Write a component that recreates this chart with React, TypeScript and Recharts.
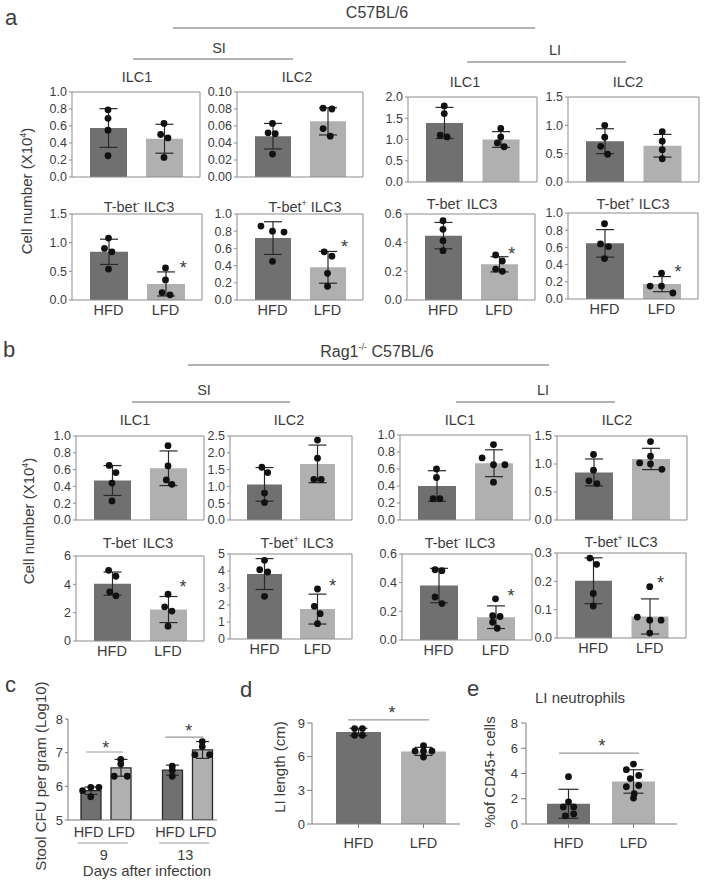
import React from "react"
import {
  ComposedChart,
  Bar,
  Cell,
  XAxis,
  YAxis,
  Scatter,
  ErrorBar,
  ReferenceLine,
  ReferenceDot,
} from "recharts"

const groups = ["HFD", "LFD"]

// a: C57BL/6, cell number (x10^4)
const aSiIlc1Mean = [0.576, 0.45]
const aSiIlc1Sd = [0.228, 0.17]
const aSiIlc1Hfd = [0.79, 0.69, 0.55, 0.25]
const aSiIlc1Lfd = [0.63, 0.5, 0.46, 0.23]

const aSiIlc2Mean = [0.048, 0.0655]
const aSiIlc2Sd = [0.015, 0.016]
const aSiIlc2Hfd = [0.063, 0.052, 0.051, 0.027]
const aSiIlc2Lfd = [0.081, 0.08, 0.057, 0.048]

const aLiIlc1Mean = [1.39, 1.0]
const aLiIlc1Sd = [0.365, 0.185]
const aLiIlc1Hfd = [1.79, 1.61, 1.1, 1.06]
const aLiIlc1Lfd = [1.26, 1.06, 0.92, 0.83]

const aLiIlc2Mean = [0.72, 0.64]
const aLiIlc2Sd = [0.22, 0.2]
const aLiIlc2Hfd = [1.0, 0.79, 0.63, 0.49]
const aLiIlc2Lfd = [0.89, 0.72, 0.57, 0.41]

const aSiTmMean = [0.84, 0.28]
const aSiTmSd = [0.22, 0.21]
const aSiTmHfd = [1.08, 0.9, 0.84, 0.54]
const aSiTmLfd = [0.56, 0.35, 0.13, 0.09]

const aSiTpMean = [0.72, 0.38]
const aSiTpSd = [0.19, 0.185]
const aSiTpHfd = [0.86, 0.8, 0.79, 0.45]
const aSiTpLfd = [0.56, 0.51, 0.31, 0.16]

const aLiTmMean = [0.449, 0.249]
const aLiTmSd = [0.092, 0.053]
const aLiTmHfd = [0.553, 0.493, 0.414, 0.344]
const aLiTmLfd = [0.314, 0.272, 0.216, 0.2]

const aLiTpMean = [0.647, 0.173]
const aLiTpSd = [0.16, 0.088]
const aLiTpHfd = [0.875, 0.64, 0.61, 0.47]
const aLiTpLfd = [0.3, 0.15, 0.15, 0.07]

// b: Rag1-/- C57BL/6
const bSiIlc1Mean = [0.47, 0.616]
const bSiIlc1Sd = [0.178, 0.206]
const bSiIlc1Hfd = [0.65, 0.565, 0.44, 0.227]
const bSiIlc1Lfd = [0.885, 0.644, 0.477, 0.425]

const bSiIlc2Mean = [1.06, 1.67]
const bSiIlc2Sd = [0.5, 0.56]
const bSiIlc2Hfd = [1.57, 1.41, 0.8, 0.52]
const bSiIlc2Lfd = [2.38, 1.84, 1.21, 1.21]

const bLiIlc1Mean = [0.4, 0.668]
const bLiIlc1Sd = [0.18, 0.158]
const bLiIlc1Hfd = [0.6, 0.5, 0.25, 0.25]
const bLiIlc1Lfd = [0.887, 0.73, 0.65, 0.65, 0.445]

const bLiIlc2Mean = [0.85, 1.09]
const bLiIlc2Sd = [0.24, 0.19]
const bLiIlc2Hfd = [1.17, 0.89, 0.7, 0.65]
const bLiIlc2Lfd = [1.4, 1.14, 1.02, 1.0, 0.905]

const bSiTmMean = [4.05, 2.22]
const bSiTmSd = [0.82, 0.92]
const bSiTmHfd = [4.99, 4.57, 3.47, 3.19]
const bSiTmLfd = [3.3, 2.41, 2.11, 1.05]

const bSiTpMean = [3.82, 1.76]
const bSiTpSd = [0.91, 0.88]
const bSiTpHfd = [4.63, 4.08, 3.94, 2.51]
const bSiTpLfd = [2.94, 1.92, 1.49, 0.9]

const bLiTmMean = [0.38, 0.159]
const bLiTmSd = [0.12, 0.079]
const bLiTmHfd = [0.49, 0.484, 0.3, 0.254]
const bLiTmLfd = [0.287, 0.17, 0.164, 0.124, 0.082]

const bLiTpMean = [0.202, 0.076]
const bLiTpSd = [0.081, 0.062]
const bLiTpHfd = [0.282, 0.26, 0.157, 0.113]
const bLiTpLfd = [0.181, 0.074, 0.063, 0.063, 0.0175]

// c: stool CFU (log10), days after infection
const days = ["9", "13"]
const cHfdMean = [5.87, 6.48]
const cHfdSd = [0.11, 0.15]
const cLfdMean = [6.55, 7.08]
const cLfdSd = [0.25, 0.25]
const cHfd9 = [5.87, 5.97, 5.97, 5.69]
const cLfd9 = [6.8, 6.66, 6.3, 6.3]
const cHfd13 = [6.6, 6.48, 6.3]
const cLfd13 = [7.33, 7.18, 6.94, 6.94]

// d: LI length (cm)
const dMean = [8.2, 6.47]
const dSd = [0.33, 0.36]
const dHfd = [8.5, 8.5, 7.9, 7.9]
const dLfd = [6.98, 6.5, 6.5, 6.5, 5.97]

// e: LI neutrophils (% of CD45+)
const eMean = [1.6, 3.37]
const eSd = [1.15, 0.93]
const eHfd = [3.75, 1.75, 1.35, 1.35, 0.65, 0.8]
const eLfd = [4.75, 4.3, 3.85, 3.6, 3.05, 2.95, 2.4, 2.05]

// horizontal spread of the dots, in category widths
const jitter: Record<string, number[][]> = {
  aSiIlc1: [[0, 0, 0, 0], [0, -0.06, 0.07, 0]],
  aSiIlc2: [[0, -0.08, 0.05, 0], [-0.08, 0.08, -0.08, 0.05]],
  aLiIlc1: [[0, 0, -0.07, 0.05], [0, 0, -0.06, 0.06]],
  aLiIlc2: [[0, 0, -0.07, 0.05], [0, 0, 0, 0]],
  aSiTm: [[0, -0.07, 0.06, 0], [0, 0, -0.06, 0.08]],
  aSiTp: [[-0.21, 0, 0.21, 0], [-0.06, 0.08, 0, 0]],
  aLiTm: [[0, 0, 0, 0], [-0.06, 0.06, -0.06, 0.06]],
  aLiTp: [[0, -0.07, 0.07, 0], [0, -0.2, 0, 0.2]],
  bSiIlc1: [[-0.05, 0.07, 0, 0], [0, 0, -0.03, 0.07]],
  bSiIlc2: [[-0.05, 0.06, 0, 0], [0, 0, -0.07, 0.07]],
  bLiIlc1: [[0, 0, -0.06, 0.06], [0, -0.2, 0, 0.2, 0]],
  bLiIlc2: [[0, 0, -0.08, 0.06], [0, 0, -0.19, 0, 0.2]],
  bSiTm: [[-0.06, 0.07, -0.04, 0.07], [0, -0.06, 0.07, 0]],
  bSiTp: [[0, -0.09, 0.06, 0], [0, -0.06, 0.05, 0]],
  bLiTm: [[-0.06, 0.06, -0.06, 0.06], [0, -0.05, 0.08, -0.05, 0.03]],
  bLiTp: [[-0.06, 0.06, 0, 0], [0, -0.22, 0, 0.2, 0]],
  c: [[-0.1, 0, 0.1, 0], [0, 0, -0.08, 0.08], [0, 0, 0], [0, 0, -0.09, 0.09]],
  d: [[-0.06, 0.06, -0.06, 0.06], [0, -0.13, 0, 0.13, 0]],
  e: [[0, 0, -0.08, 0.08, -0.05, 0.08], [0, -0.11, 0.08, -0.05, 0.08, -0.11, 0.01, 0]],
}

const FONT = "'Liberation Sans', Arial, sans-serif"
const TEXT = "#3c3c3c"
const DARK = "#707070"
const LIGHT = "#b0b0b0"
const BOX = "#8c8c8c"
const AXIS = "#7a7a7a"
const RULE = "#9a9a9a"

const Dot = (p: any) => <circle cx={p.cx} cy={p.cy} r={3.4} fill="#111" />

const Asterisk = (p: any) => (
  <text x={p.cx} y={p.cy + 10} textAnchor="middle" fontSize={18} fill={TEXT} fontFamily={FONT}>
    *
  </text>
)

interface PanelProps {
  box: number[]
  ticks: number[]
  dec: number
  mean: number[]
  sd: number[]
  hfd: number[]
  lfd: number[]
  jit: number[][]
  framed?: boolean
  labels?: boolean
  pad?: { left: number; right: number }
  barSize?: number
  cap?: number
  tickFont?: number
  mt?: number
  xTick?: number[]
  yTick?: number[]
  sig?: number[]
  star?: number[]
}

function DotBarPanel({
  box,
  ticks,
  dec,
  mean,
  sd,
  hfd,
  lfd,
  jit,
  framed = true,
  labels = false,
  pad = { left: 8, right: 8 },
  barSize,
  cap = 9,
  tickFont = 12.5,
  mt = 8,
  xTick = [3, 2],
  yTick = [3, 2],
  sig,
  star,
}: PanelProps) {
  const [l, t, r, b] = box
  const yw = 40
  const topH = framed ? 1 : 0
  const rightW = framed ? 1 : 0
  const xh = labels ? 32 : 9
  const stroke = framed ? BOX : AXIS
  const max = ticks[ticks.length - 1]
  const band = (r - l - pad.left - pad.right) / 2
  const bars = groups.map((g, i) => ({ g, m: mean[i], sd: sd[i] }))
  const pts = [
    ...hfd.map((v, k) => ({ x: jit[0][k], v })),
    ...lfd.map((v, k) => ({ x: 1 + jit[1][k], v })),
  ]

  return (
    <div style={{ position: "absolute", left: l - yw, top: t - mt - topH }}>
      <ComposedChart
        width={yw + (r - l) + rightW + 4}
        height={mt + topH + (b - t) + xh}
        data={bars}
        margin={{ top: mt, right: 4, bottom: 0, left: 0 }}
      >
        <XAxis
          dataKey="g"
          padding={pad}
          height={xh}
          interval={0}
          tickSize={xTick[0]}
          tickMargin={xTick[1]}
          tickLine={framed ? false : { stroke }}
          axisLine={{ stroke }}
          tick={labels ? { fontSize: 14.5, fill: TEXT, fontFamily: FONT } : false}
        />
        <XAxis
          xAxisId="pts"
          dataKey="x"
          type="number"
          domain={[-0.5, 1.5]}
          allowDataOverflow
          padding={pad}
          orientation="top"
          height={topH || 1}
          hide={!framed}
          ticks={[-0.5, 1.5]}
          tick={false}
          tickLine={false}
          axisLine={{ stroke }}
        />
        <YAxis
          width={yw}
          domain={[0, max]}
          ticks={ticks}
          interval={0}
          allowDataOverflow
          tickFormatter={(v: number) => v.toFixed(dec)}
          tickSize={yTick[0]}
          tickMargin={yTick[1]}
          tickLine={{ stroke }}
          axisLine={{ stroke }}
          tick={{ fontSize: tickFont, fill: TEXT, fontFamily: FONT }}
        />
        {framed && (
          <YAxis
            yAxisId="r"
            orientation="right"
            width={rightW}
            domain={[0, max]}
            ticks={[0, max]}
            allowDataOverflow
            tick={false}
            tickLine={false}
            axisLine={{ stroke }}
          />
        )}
        <Bar dataKey="m" barSize={barSize ?? Math.round(band * 0.66)} isAnimationActive={false}>
          <Cell fill={DARK} />
          <Cell fill={LIGHT} />
          <ErrorBar dataKey="sd" width={cap} stroke="#2a2a2a" strokeWidth={1.2} isAnimationActive={false} />
        </Bar>
        <Scatter xAxisId="pts" data={pts} dataKey="v" shape={Dot} isAnimationActive={false} />
        {sig && (
          <ReferenceLine
            xAxisId="pts"
            segment={[
              { x: sig[0], y: sig[2] },
              { x: sig[1], y: sig[2] },
            ]}
            stroke={RULE}
            strokeWidth={1.2}
            ifOverflow="visible"
          />
        )}
        {star && <ReferenceDot xAxisId="pts" x={star[0]} y={star[1]} ifOverflow="visible" shape={Asterisk} />}
      </ComposedChart>
    </div>
  )
}

function DayTick({ x, y, payload }: any) {
  return (
    <g fontFamily={FONT} fill={TEXT}>
      <text x={x - 1.5} y={y + 17} textAnchor="middle" fontSize={14.5}>
        HFD LFD
      </text>
      <line x1={x - 28} x2={x + 22} y1={y + 23} y2={y + 23} stroke={RULE} strokeWidth={1.2} />
      <text x={x - 2} y={y + 40} textAnchor="middle" fontSize={14.5}>
        {payload.value}
      </text>
    </g>
  )
}

function CfuPanel() {
  const l = 68
  const t = 719
  const r = 217
  const b = 820
  const yw = 30
  const mt = 16
  const xh = 62
  const pad = { left: -3, right: -11 }
  const band = (r - l - pad.left - pad.right) / 2
  const off = 15 / band
  const data = days.map((d, i) => ({
    day: d,
    hfd: cHfdMean[i],
    hfdSd: cHfdSd[i],
    lfd: cLfdMean[i],
    lfdSd: cLfdSd[i],
  }))
  const j = jitter.c
  const pts = [
    ...cHfd9.map((v, k) => ({ x: -off + j[0][k], v })),
    ...cLfd9.map((v, k) => ({ x: off + j[1][k], v })),
    ...cHfd13.map((v, k) => ({ x: 1 - off + j[2][k], v })),
    ...cLfd13.map((v, k) => ({ x: 1 + off + j[3][k], v })),
  ]

  return (
    <div style={{ position: "absolute", left: l - yw, top: t - mt }}>
      <ComposedChart
        width={yw + (r - l) + 4}
        height={mt + (b - t) + xh}
        data={data}
        barGap={10}
        margin={{ top: mt, right: 4, bottom: 0, left: 0 }}
      >
        <XAxis
          dataKey="day"
          padding={pad}
          height={xh}
          interval={0}
          tickSize={0}
          tickMargin={0}
          tickLine={false}
          axisLine={{ stroke: AXIS }}
          tick={<DayTick />}
        />
        <XAxis xAxisId="pts" dataKey="x" type="number" domain={[-0.5, 1.5]} allowDataOverflow padding={pad} hide />
        <YAxis
          width={yw}
          domain={[5, 8]}
          ticks={[5, 6, 7, 8]}
          interval={0}
          allowDataOverflow
          tickSize={3}
          tickMargin={2}
          tickLine={{ stroke: AXIS }}
          axisLine={{ stroke: AXIS }}
          tick={{ fontSize: 13, fill: TEXT, fontFamily: FONT }}
        />
        <Bar dataKey="hfd" barSize={20} fill={DARK} stroke="#2a2a2a" strokeWidth={1.3} isAnimationActive={false}>
          <ErrorBar dataKey="hfdSd" width={6.5} stroke="#2a2a2a" strokeWidth={1.2} isAnimationActive={false} />
        </Bar>
        <Bar dataKey="lfd" barSize={20} fill={LIGHT} stroke="#2a2a2a" strokeWidth={1.3} isAnimationActive={false}>
          <ErrorBar dataKey="lfdSd" width={6.5} stroke="#2a2a2a" strokeWidth={1.2} isAnimationActive={false} />
        </Bar>
        <Scatter xAxisId="pts" data={pts} dataKey="v" shape={Dot} isAnimationActive={false} />
        <ReferenceLine
          xAxisId="pts"
          segment={[
            { x: -0.24, y: 7.02 },
            { x: 0.215, y: 7.02 },
          ]}
          stroke={RULE}
          strokeWidth={1.2}
          ifOverflow="visible"
        />
        <ReferenceLine
          xAxisId="pts"
          segment={[
            { x: 0.73, y: 7.46 },
            { x: 1.2, y: 7.46 },
          ]}
          stroke={RULE}
          strokeWidth={1.2}
          ifOverflow="visible"
        />
        <ReferenceDot xAxisId="pts" x={0} y={7.26} ifOverflow="visible" shape={Asterisk} />
        <ReferenceDot xAxisId="pts" x={1.02} y={7.76} ifOverflow="visible" shape={Asterisk} />
      </ComposedChart>
    </div>
  )
}

function Title({ x, y, text, sup }: { x: number; y: number; text: string; sup?: string }) {
  return (
    <text x={x} y={y} textAnchor="middle" fontSize={14.5}>
      {text}
      {sup && (
        <>
          <tspan fontSize={9} dy={-6}>
            {sup}
          </tspan>
          <tspan dy={6}> ILC3</tspan>
        </>
      )}
    </text>
  )
}

function YLabel({ x, y, children }: { x: number; y: number; children: React.ReactNode }) {
  return (
    <text transform={`translate(${x + 5.5},${y}) rotate(-90)`} textAnchor="middle" fontSize={15}>
      {children}
    </text>
  )
}

function Overlay() {
  const rule = { stroke: RULE, strokeWidth: 1.3 }
  return (
    <svg
      width={705}
      height={895}
      style={{ position: "absolute", left: 0, top: 0 }}
      fontFamily={FONT}
      fill={TEXT}
    >
      {/* a */}
      <text x={5} y={25} fontSize={22}>a</text>
      <text x={377} y={18} textAnchor="middle" fontSize={16}>C57BL/6</text>
      <line x1={173} x2={535} y1={28} y2={28} {...rule} />
      <text x={219} y={53} textAnchor="middle" fontSize={14.5}>SI</text>
      <line x1={133} x2={293} y1={59} y2={59} {...rule} />
      <text x={555} y={55} textAnchor="middle" fontSize={14.5}>LI</text>
      <line x1={467} x2={626} y1={62} y2={62} {...rule} />
      <Title x={137} y={82} text="ILC1" />
      <Title x={297} y={82} text="ILC2" />
      <Title x={465} y={87} text="ILC1" />
      <Title x={628} y={87} text="ILC2" />
      <Title x={139} y={212} text="T-bet" sup="-" />
      <Title x={305} y={212} text="T-bet" sup="+" />
      <Title x={462} y={209} text="T-bet" sup="-" />
      <Title x={633} y={209} text="T-bet" sup="+" />
      <YLabel x={26} y={191}>
        Cell number (X10
        <tspan fontSize={9} dy={-6}>4</tspan>
        <tspan dy={6}>)</tspan>
      </YLabel>

      {/* b */}
      <text x={3} y={357} fontSize={22}>b</text>
      <text x={377} y={357} textAnchor="middle" fontSize={16}>
        Rag1
        <tspan fontSize={9} dy={-7}>-/-</tspan>
        <tspan dy={7}> C57BL/6</tspan>
      </text>
      <line x1={188} x2={549} y1={365} y2={365} {...rule} />
      <text x={204} y={395} textAnchor="middle" fontSize={14.5}>SI</text>
      <line x1={132} x2={290} y1={402} y2={402} {...rule} />
      <text x={543} y={395} textAnchor="middle" fontSize={14.5}>LI</text>
      <line x1={456} x2={615} y1={402} y2={402} {...rule} />
      <Title x={135} y={425} text="ILC1" />
      <Title x={289} y={425} text="ILC2" />
      <Title x={460} y={425} text="ILC1" />
      <Title x={617} y={425} text="ILC2" />
      <Title x={138} y={548} text="T-bet" sup="-" />
      <Title x={297} y={548} text="T-bet" sup="+" />
      <Title x={460} y={548} text="T-bet" sup="-" />
      <Title x={621} y={547} text="T-bet" sup="+" />
      <YLabel x={28} y={521}>
        Cell number (X10
        <tspan fontSize={9} dy={-6}>4</tspan>
        <tspan dy={6}>)</tspan>
      </YLabel>

      {/* c, d, e */}
      <text x={5} y={692} fontSize={22}>c</text>
      <YLabel x={40} y={776}>Stool CFU per gram (Log10)</YLabel>
      <text x={147} y={876} textAnchor="middle" fontSize={15}>Days after infection</text>
      <text x={240} y={697} fontSize={22}>d</text>
      <YLabel x={279} y={767}>LI length (cm)</YLabel>
      <text x={467} y={696} fontSize={22}>e</text>
      <text x={580} y={703} textAnchor="middle" fontSize={15}>LI neutrophils</text>
      <YLabel x={489} y={772}>%of CD45+ cells</YLabel>
    </svg>
  )
}

const tenths = [0, 0.2, 0.4, 0.6, 0.8, 1.0]

export default function App() {
  return (
    <div style={{ position: "absolute", left: 0, top: 0, width: 705, height: 895, background: "#fff" }}>
      <Overlay />

      <DotBarPanel box={[72, 92, 200, 177]} ticks={tenths} dec={1} mean={aSiIlc1Mean} sd={aSiIlc1Sd} hfd={aSiIlc1Hfd} lfd={aSiIlc1Lfd} jit={jitter.aSiIlc1} />
      <DotBarPanel box={[237, 92, 363, 177]} ticks={[0, 0.02, 0.04, 0.06, 0.08, 0.1]} dec={2} mean={aSiIlc2Mean} sd={aSiIlc2Sd} hfd={aSiIlc2Hfd} lfd={aSiIlc2Lfd} jit={jitter.aSiIlc2} />
      <DotBarPanel box={[408, 97, 537, 182]} ticks={[0, 0.5, 1, 1.5, 2]} dec={1} mean={aLiIlc1Mean} sd={aLiIlc1Sd} hfd={aLiIlc1Hfd} lfd={aLiIlc1Lfd} jit={jitter.aLiIlc1} />
      <DotBarPanel box={[568, 97, 699, 182]} ticks={[0, 0.5, 1, 1.5]} dec={1} mean={aLiIlc2Mean} sd={aLiIlc2Sd} hfd={aLiIlc2Hfd} lfd={aLiIlc2Lfd} jit={jitter.aLiIlc2} />

      <DotBarPanel box={[72, 214, 202, 300]} ticks={[0, 0.5, 1, 1.5]} dec={1} mean={aSiTmMean} sd={aSiTmSd} hfd={aSiTmHfd} lfd={aSiTmLfd} jit={jitter.aSiTm} labels star={[1.31, 0.63]} />
      <DotBarPanel box={[237, 214, 363, 300]} ticks={tenths} dec={1} mean={aSiTpMean} sd={aSiTpSd} hfd={aSiTpHfd} lfd={aSiTpLfd} jit={jitter.aSiTp} labels star={[1.31, 0.66]} />
      <DotBarPanel box={[407, 214, 535, 300]} ticks={[0, 0.2, 0.4, 0.6]} dec={1} mean={aLiTmMean} sd={aLiTmSd} hfd={aLiTmHfd} lfd={aLiTmLfd} jit={jitter.aLiTm} labels star={[1.23, 0.35]} />
      <DotBarPanel box={[568, 213, 698, 299]} ticks={tenths} dec={1} mean={aLiTpMean} sd={aLiTpSd} hfd={aLiTpHfd} lfd={aLiTpLfd} jit={jitter.aLiTp} labels star={[1.29, 0.36]} />

      <DotBarPanel box={[76, 436, 204, 520]} ticks={tenths} dec={1} mean={bSiIlc1Mean} sd={bSiIlc1Sd} hfd={bSiIlc1Hfd} lfd={bSiIlc1Lfd} jit={jitter.bSiIlc1} />
      <DotBarPanel box={[230, 436, 352, 520]} ticks={[0, 0.5, 1, 1.5, 2, 2.5]} dec={1} mean={bSiIlc2Mean} sd={bSiIlc2Sd} hfd={bSiIlc2Hfd} lfd={bSiIlc2Lfd} jit={jitter.bSiIlc2} />
      <DotBarPanel box={[400, 435, 530, 520]} ticks={tenths} dec={1} mean={bLiIlc1Mean} sd={bLiIlc1Sd} hfd={bLiIlc1Hfd} lfd={bLiIlc1Lfd} jit={jitter.bLiIlc1} />
      <DotBarPanel box={[557, 436, 687, 520]} ticks={[0, 0.5, 1, 1.5]} dec={1} mean={bLiIlc2Mean} sd={bLiIlc2Sd} hfd={bLiIlc2Hfd} lfd={bLiIlc2Lfd} jit={jitter.bLiIlc2} />

      <DotBarPanel box={[76, 556, 204, 641]} ticks={[0, 2, 4, 6]} dec={0} mean={bSiTmMean} sd={bSiTmSd} hfd={bSiTmHfd} lfd={bSiTmLfd} jit={jitter.bSiTm} labels star={[1.27, 4.1]} />
      <DotBarPanel box={[230, 554, 352, 639]} ticks={[0, 1, 2, 3, 4, 5]} dec={0} mean={bSiTpMean} sd={bSiTpSd} hfd={bSiTpHfd} lfd={bSiTpLfd} jit={jitter.bSiTp} labels star={[1.29, 3.35]} />
      <DotBarPanel box={[402, 554, 532, 640]} ticks={[0, 0.2, 0.4, 0.6]} dec={1} mean={bLiTmMean} sd={bLiTmSd} hfd={bLiTmHfd} lfd={bLiTmLfd} jit={jitter.bLiTm} labels star={[1.27, 0.335]} />
      <DotBarPanel box={[557, 553, 686, 638]} ticks={[0, 0.1, 0.2, 0.3]} dec={1} mean={bLiTpMean} sd={bLiTpSd} hfd={bLiTpHfd} lfd={bLiTpLfd} jit={jitter.bLiTp} labels star={[1.19, 0.208]} />

      <CfuPanel />

      <DotBarPanel
        box={[312, 723, 460, 824]}
        ticks={[0, 3, 6, 9]}
        dec={0}
        mean={dMean}
        sd={dSd}
        hfd={dHfd}
        lfd={dLfd}
        jit={jitter.d}
        framed={false}
        labels
        pad={{ left: 14, right: 4 }}
        barSize={45}
        cap={9}
        tickFont={13}
        mt={24}
        xTick={[4, 10]}
        yTick={[5, 2]}
        sig={[-0.16, 1.085, 9.27]}
        star={[0.515, 10.25]}
      />
      <DotBarPanel
        box={[526, 723, 677, 824]}
        ticks={[0, 2, 4, 6, 8]}
        dec={0}
        mean={eMean}
        sd={eSd}
        hfd={eHfd}
        lfd={eLfd}
        jit={jitter.e}
        framed={false}
        labels
        pad={{ left: 10, right: 11 }}
        barSize={43}
        cap={10}
        tickFont={13}
        mt={24}
        xTick={[4, 10]}
        yTick={[5, 3]}
        sig={[-0.146, 1.085, 5.62]}
        star={[0.515, 6.5]}
      />
    </div>
  )
}
